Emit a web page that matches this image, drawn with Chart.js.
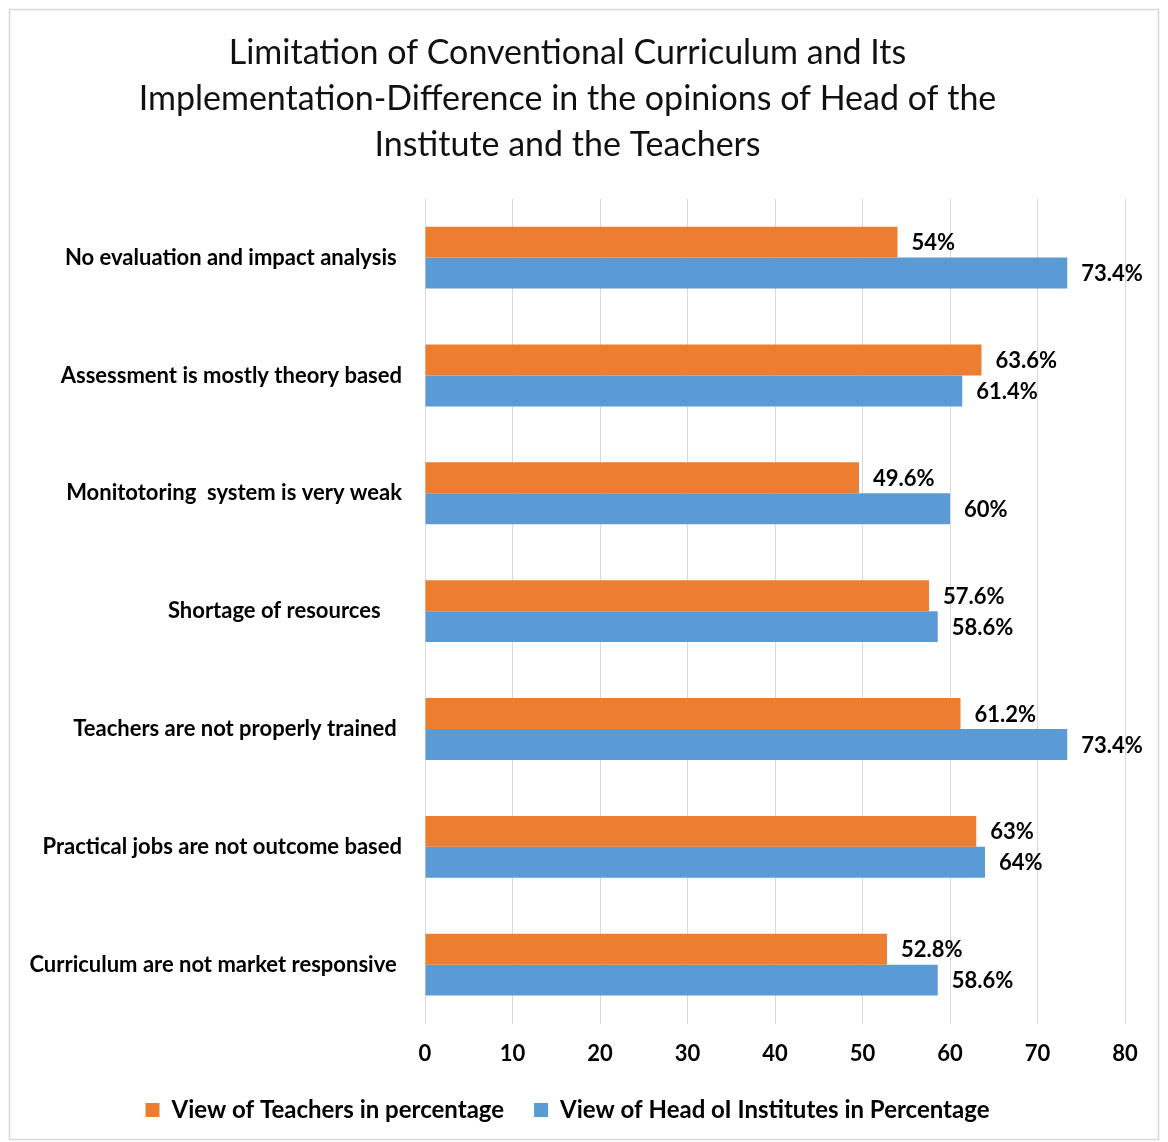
<!DOCTYPE html>
<html>
<head>
<meta charset="utf-8">
<script src="https://cdn.jsdelivr.net/npm/chart.js@4/dist/chart.umd.min.js"></script>
<style>
html,body{margin:0;padding:0;background:#fff;}
#wrap{width:1168px;height:1142px;position:relative;}
</style>
</head>
<body>
<div id="wrap"><canvas id="c" width="1168" height="1142"></canvas></div>
<script>
const categories = [
  "No evaluation and impact analysis ",
  "Assessment is mostly theory based",
  "Monitotoring  system is very weak",
  "Shortage of resources    ",
  "Teachers are not properly trained ",
  "Practical jobs are not outcome based",
  "Curriculum are not market responsive "
];
const teachersValues = [54, 63.6, 49.6, 57.6, 61.2, 63, 52.8];
const headValues = [73.4, 61.4, 60, 58.6, 73.4, 64, 58.6];
const seriesNames = ["View of Teachers in percentage", "View of Head oI Institutes in Percentage"];
const titleLines = [
  "Limitation of Conventional Curriculum and Its",
  "Implementation-Difference in the opinions of Head of the",
  "Institute and the Teachers"
];
const xTicks = [0, 10, 20, 30, 40, 50, 60, 70, 80];

const FONT = "Lato, 'Open Sans', sans-serif";

const borderPlugin = {
  id: 'outerBorder',
  beforeDraw(chart) {
    const ctx = chart.ctx;
    ctx.save();
    ctx.fillStyle = '#fff';
    ctx.fillRect(0, 0, chart.width, chart.height);
    ctx.strokeStyle = '#d9d9d9';
    ctx.lineWidth = 1.5;
    ctx.strokeRect(9.5, 9.5, chart.width - 19, chart.height - 12);
    ctx.restore();
  }
};

const labelPlugin = {
  id: 'valueLabels',
  afterDatasetsDraw(chart) {
    const ctx = chart.ctx;
    ctx.save();
    ctx.font = "bold 22px " + FONT;
    ctx.fillStyle = '#000';
    ctx.textAlign = 'left';
    ctx.textBaseline = 'middle';
    chart.data.datasets.forEach((ds, di) => {
      const meta = chart.getDatasetMeta(di);
      meta.data.forEach((el, i) => {
        ctx.fillText(ds.data[i] + '%', el.x + 14, el.y + 1);
      });
    });
    ctx.restore();
  }
};

new Chart(document.getElementById('c'), {
  type: 'bar',
  data: {
    labels: categories,
    datasets: [
      { label: seriesNames[0], data: teachersValues, backgroundColor: '#ED7D31', barPercentage: 1, categoryPercentage: 0.525 },
      { label: seriesNames[1], data: headValues, backgroundColor: '#5B9BD5', barPercentage: 1, categoryPercentage: 0.525 }
    ]
  },
  options: {
    indexAxis: 'y',
    responsive: false,
    animation: false,
    layout: { padding: { left: 10, right: 43, top: 10, bottom: 10 } },
    scales: {
      x: {
        min: 0, max: 80,
        afterBuildTicks(scale) { scale.ticks = xTicks.map(v => ({ value: v })); },
        afterFit(scale) { scale.height = scale.height - 16; },
        grid: { color: '#d9d9d9', lineWidth: 1, drawTicks: false },
        border: { display: false },
        ticks: { color: '#000', font: { family: FONT, size: 22, weight: 'bold' }, padding: 17 }
      },
      y: {
        grid: { display: false, drawTicks: false },
        border: { display: false },
        afterFit(scale) { scale.width = 415; },
        ticks: { color: '#000', font: { family: FONT, size: 22, weight: 'bold' }, padding: 23 }
      }
    },
    plugins: {
      title: {
        display: true,
        text: titleLines,
        color: '#111',
        font: { family: FONT, size: 34, weight: 'normal', lineHeight: 1.35 },
        padding: { top: 20, bottom: 31 }
      },
      legend: {
        position: 'bottom',
        labels: {
          color: '#000',
          font: { family: FONT, size: 24, weight: 'bold' },
          boxWidth: 14, boxHeight: 14, padding: 30
        }
      },
      tooltip: { enabled: false }
    }
  },
  plugins: [borderPlugin, labelPlugin]
});
</script>
</body>
</html>
